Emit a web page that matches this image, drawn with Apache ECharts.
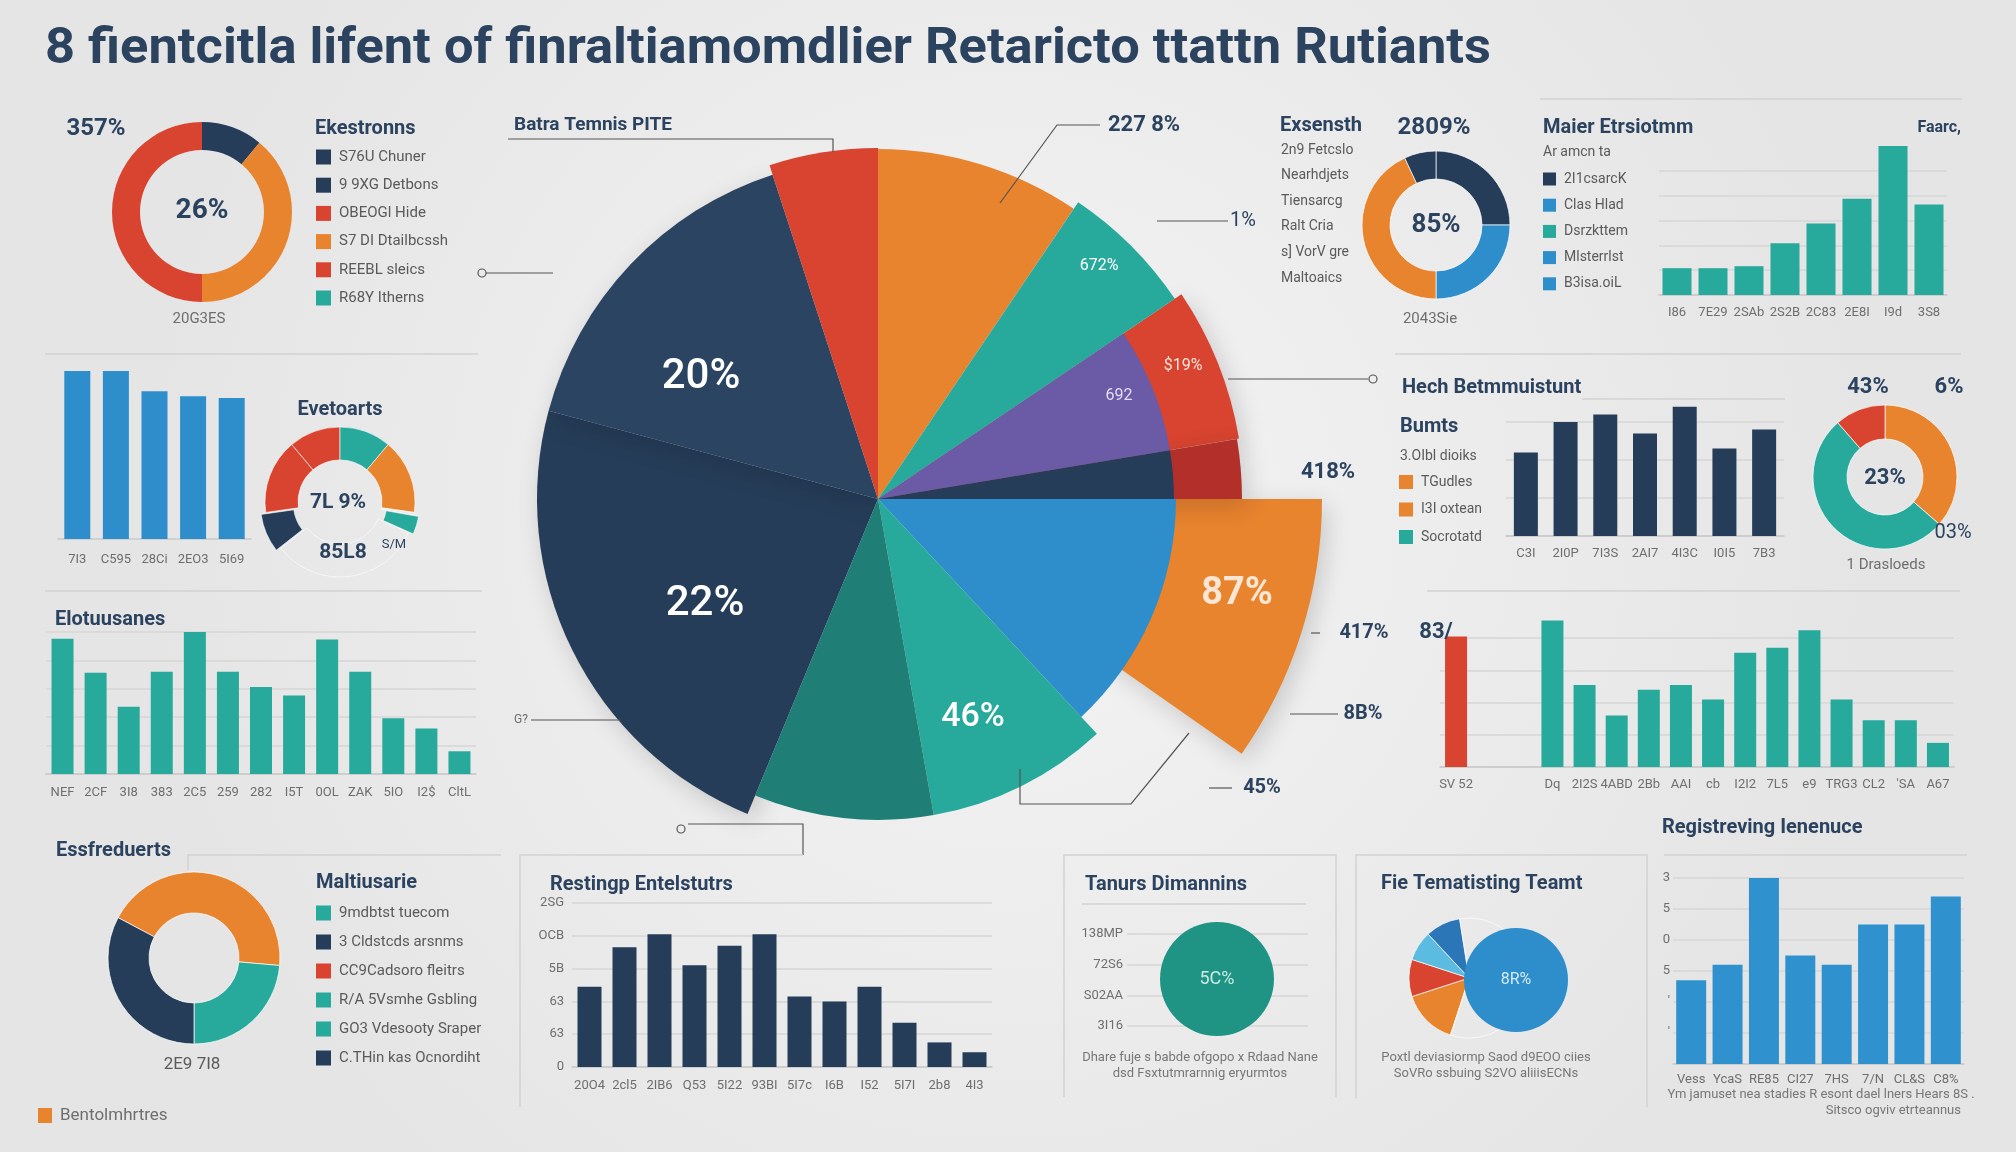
<!DOCTYPE html>
<html>
<head>
<meta charset="utf-8">
<title>Infographic</title>
<script src="https://cdn.jsdelivr.net/npm/echarts@6.0.0/dist/echarts.min.js"></script>
<style>
  html, body { margin: 0; padding: 0; background: #ececec; }
  #chart { width: 2016px; height: 1152px; }
</style>
</head>
<body>
<div id="chart"></div>
<script>
// ---------- values ----------
const titleText = '8 fientcitla lifent of finraltiamomdlier Retaricto ttattn Rutiants';

// top-left ring (navy, orange, red, clockwise from 12 o'clock)
const ringTopLeft = [11, 39, 50];
const ringTopLeftNames = ['S76U Chuner', '9 9XG Detbons', 'OBEOGl Hide', 'S7 DI Dtailbcssh', 'REEBL sleics', 'R68Y Itherns'];

// blue bars, left middle
const blueCats = ['7I3', 'C595', '28Ci', '2EO3', '5I69'];
const blueVals = [100, 100, 88, 85, 84];

// half ring "Evetoarts" (last share is the empty part)
const gaugeShares = [30, 58, 40, 40, 58, 2, 14, 118];

// teal bars, left
const tealLeftCats = ['NEF', '2CF', '3I8', '383', '2C5', '259', '282', 'I5T', '0OL', 'ZAK', '5IO', 'I2$', 'CltL'];
const tealLeftVals = [143, 107, 71, 108, 150, 108, 92, 83, 142, 108, 59, 48, 24];

// big pie: sector shares clockwise from 12 o'clock, plus the pulled-out orange piece
const mainShares = [34, 22, 24.5, 9.5, 47, 33, 32.5, 82.5, 57, 18];
const pulledShare = 35;

// "Exsensth" ring
const ringExsenth = [90, 90, 155, 25];
const exsenthNotes = ['2n9 Fetcslo', 'Nearhdjets', 'Tiensarcg', 'Ralt Cria', 's] VorV gre', 'Maltoaics'];

// "Maier" bars
const maierNames = ['2I1csarcK', 'Clas Hlad', 'Dsrzkttem', 'Mlsterrlst', 'B3isa.oiL'];
const maierCats = ['I86', '7E29', '2SAb', '2S2B', '2C83', '2E8I', 'I9d', '3S8'];
const maierVals = [27, 27, 29, 52, 72, 97, 150, 91];

// "Hech" bars
const hechNames = ['TGudles', 'I3I oxtean', 'Socrotatd'];
const hechCats = ['C3I', '2I0P', '7I3S', '2AI7', '4I3C', 'I0I5', '7B3'];
const hechVals = [22, 30, 32, 27, 34, 23, 28];

// right ring (orange, teal, red)
const ringRight = [131, 188, 41];

// red + teal bars, right
const mixCats = ['SV 52', '', '', 'Dq', '2I2S', '4ABD', '2Bb', 'AAI', 'cb', 'I2I2', '7L5', 'e9', 'TRG3', 'CL2', "'SA", 'A67'];
const mixRed = 81;
const mixTeal = [91, 51, 32, 48, 51, 42, 71, 74, 85, 42, 29, 29, 15];

// bottom-left ring (orange, teal, navy)
const ringLow = [157, 85, 118];
const maltNames = ['9mdbtst tuecom', '3 Cldstcds arsnms', 'CC9Cadsoro fleitrs', 'R/A 5Vsmhe Gsbling', 'GO3 Vdesooty Sraper', 'C.THin kas Ocnordiht'];

// "Restingp" bars
const restCats = ['20O4', '2cl5', '2IB6', 'Q53', '5I22', '93BI', '5I7c', 'I6B', 'I52', '5I7I', '2b8', '4I3'];
const restVals = [49, 73, 81, 62, 74, 81, 43, 40, 49, 27, 15, 9];
const restTicks = ['0', '63', '63', '5B', 'OCB', '2SG'];

// "Tanurs" panel
const tanursTicks = ['3I16', 'S02AA', '72S6', '138MP'];
const tanursVal = [50];

// "Fie" panel: small slices (last is empty) and the big blue disc
const fieSlices = [54, 36, 29, 34, 207];
const fieDisc = [100];

// "Registreving" bars
const regCats = ['Vess', 'YcaS', 'RE85', 'CI27', '7HS', '7/N', 'CL&S', 'C8%'];
const regVals = [2.7, 3.2, 6, 3.5, 3.2, 4.5, 4.5, 5.4];
const regTicks = ['', "'", "'", '5', '0', '5', '3'];

// ---------- styling ----------
const C = {
  navy: '#263d59', navy2: '#2b4461', orange: '#e8832e', red: '#d8442f', darkRed: '#b3302a',
  teal: '#27a99c', darkTeal: '#1f7f76', blue: '#2e8ecb', purple: '#6b5aa6', sky: '#5cbbe0',
  deepBlue: '#2a76b6', ink: '#2c4360', grey: '#5a5a5a', soft: '#6e6e6e', rule: '#d2d2d2', lead: '#555'
};
const FONT = 'Roboto, "Noto Sans", sans-serif';

const grids = [], xAxes = [], yAxes = [], series = [], graphics = [];

function txt(x, y, text, size, color, opt = {}) {
  graphics.push({
    type: 'text', x, y, z: 100, silent: true, scaleX: opt.scaleX || 1,
    style: {
      text, fill: color, font: `${opt.weight || 'normal'} ${size}px ${FONT}`,
      align: opt.align || 'left', verticalAlign: 'middle'
    }
  });
}
function line(points, color = C.rule, width = 1.5) {
  graphics.push({ type: 'polyline', z: 50, silent: true, shape: { points }, style: { stroke: color, lineWidth: width, fill: null } });
}
function dot(x, y) {
  graphics.push({ type: 'circle', z: 50, silent: true, shape: { cx: x, cy: y, r: 4 }, style: { stroke: C.lead, lineWidth: 1.2, fill: 'none' } });
}
function legend(x, y, step, colors, names, box = 15, size = 15) {
  names.forEach((n, k) => {
    const cy = y + k * step;
    if (colors) {
      graphics.push({ type: 'rect', z: 100, silent: true, shape: { x, y: cy - box / 2, width: box, height: box }, style: { fill: colors[k] } });
    }
    txt(x + (colors ? box + 8 : 0), cy, n, size, C.grey);
  });
}

function bars(box, cats, vals, color, o = {}) {
  const i = grids.length;
  grids.push({ left: box[0], top: box[1], width: box[2], height: box[3], outerBoundsMode: 'none' });
  xAxes.push({
    gridIndex: i, type: 'category', data: cats,
    axisTick: { show: false },
    axisLine: { show: o.axisLine !== false, lineStyle: { color: '#c9c9c9', width: 1.5 } },
    axisLabel: { interval: 0, color: C.soft, fontSize: 13, fontFamily: FONT, margin: o.margin ?? 11 }
  });
  yAxes.push({
    gridIndex: i, type: 'value', min: 0, max: o.max, interval: o.step,
    axisLine: { show: false }, axisTick: { show: false },
    axisLabel: o.ticks
      ? { show: true, color: C.soft, fontSize: 13, fontFamily: FONT, margin: o.yMargin ?? 6,
          formatter: v => o.ticks[Math.round(v / o.step)] ?? '' }
      : { show: false },
    splitLine: { show: o.split !== false, showMaxLine: o.maxLine !== false, lineStyle: { color: '#d6d6d6', width: 1.5 } }
  });
  series.push({
    type: 'bar', xAxisIndex: i, yAxisIndex: i, data: vals, barWidth: o.barWidth,
    itemStyle: { color }, silent: true
  });
}

function ring(center, radius, vals, colors, startAngle, opt = {}) {
  series.push({
    type: 'pie', center, radius, startAngle, clockwise: true, silent: true, z: opt.z || 2,
    label: { show: false }, labelLine: { show: false }, emphasis: { disabled: true },
    selectedMode: opt.selected ? 'multiple' : false, selectedOffset: opt.offset || 0,
    data: vals.map((v, k) => ({
      value: v,
      selected: !!(opt.selected && opt.selected.includes(k)),
      itemStyle: Object.assign({ color: colors[k] }, opt.itemStyle || {})
    }))
  });
}

// ---------- title ----------
const measure = document.createElement('canvas').getContext('2d');
measure.font = `bold 50px ${FONT}`;
txt(45, 50, titleText, 50, C.ink, { weight: 'bold', scaleX: 1446 / measure.measureText(titleText).width });

// ---------- top-left ring + legend ----------
ring([202, 212], [62, 90], ringTopLeft, [C.navy, C.orange, C.red], 90);
txt(202, 211, '26%', 28, C.ink, { weight: 'bold', align: 'center' });
txt(96, 129, '357%', 24, C.ink, { weight: 'bold', align: 'center' });
txt(199, 319, '20G3ES', 15, C.soft, { align: 'center' });
txt(315, 129, 'Ekestronns', 20, C.ink, { weight: 'bold' });
legend(316, 157, 28.2, [C.navy, C.navy, C.red, C.orange, C.red, C.teal], ringTopLeftNames);
line([[45, 354], [478, 354]]);

// ---------- blue bars + half ring ----------
bars([58, 371, 193, 168], blueCats, blueVals, C.blue, { max: 100, step: 100, split: false, barWidth: 26, margin: 14 });
txt(340, 410, 'Evetoarts', 20, C.ink, { weight: 'bold', align: 'center' });
ring([340, 502], [42, 75], gaugeShares,
  [C.navy, C.red, C.red, C.teal, C.orange, 'transparent', C.teal, 'transparent'], 218,
  { selected: [0, 6], offset: 5, itemStyle: { borderColor: 'rgba(255,255,255,0.6)', borderWidth: 1 } });
txt(338, 503, '7L 9%', 21, C.ink, { weight: 'bold', align: 'center' });
txt(343, 553, '85L8', 21, C.ink, { weight: 'bold', align: 'center' });
txt(394, 545, 'S/M', 13, C.ink, { align: 'center' });
line([[45, 591], [482, 591]]);

// ---------- teal bars left ----------
txt(55, 620, 'Elotuusanes', 20, C.ink, { weight: 'bold' });
bars([46, 632, 430, 142], tealLeftCats, tealLeftVals, C.teal, { max: 150, step: 30, barWidth: 22, margin: 12 });

// ---------- big pie ----------
const mainCenter = [878, 499];
const shadowStyle = { shadowBlur: 24, shadowColor: 'rgba(0,0,0,0.16)', shadowOffsetX: 5, shadowOffsetY: 7 };

// pulled-out orange piece sits behind the blue sector, starting where blue starts
const blueStart = 90 - mainShares.slice(0, 4).reduce((a, b) => a + b, 0);
series.push({
  type: 'pie', center: mainCenter, radius: [0, 444], startAngle: blueStart, clockwise: true,
  silent: true, z: 1, label: { show: false }, labelLine: { show: false }, emphasis: { disabled: true },
  data: [
    { value: pulledShare, itemStyle: Object.assign({ color: C.orange }, shadowStyle) },
    { value: 360 - pulledShare, itemStyle: { color: 'transparent' } }
  ]
});

// [segment, radius, colour, layer, casts shadow]
const mainSectors = [
  [2, 366, C.red, 1, true], [3, 364, C.darkRed, 1, true],
  [7, 341, C.navy, 2, true], [8, 341, C.navy2, 2, true],
  [0, 350, C.orange, 2], [1, 358, C.teal, 2], [2, 296, C.purple, 2], [3, 296, C.navy, 2],
  [4, 298, C.blue, 2], [5, 321, C.teal, 2], [6, 321, C.darkTeal, 2],
  [9, 351, C.red, 2]
];
mainSectors.forEach(([seg, r, color, layer, shadow]) => {
  series.push({
    type: 'pie', center: mainCenter, radius: [0, r], startAngle: 90, clockwise: true,
    silent: true, z: layer, label: { show: false }, labelLine: { show: false }, emphasis: { disabled: true },
    data: mainShares.map((v, k) => ({
      value: v,
      itemStyle: k !== seg
        ? { color: 'transparent' }
        : Object.assign({ color }, shadow ? shadowStyle : {})
    }))
  });
});
txt(701, 377, '20%', 42, '#ffffff', { weight: 500, align: 'center' });
txt(705, 604, '22%', 42, '#ffffff', { weight: 500, align: 'center' });
txt(973, 717, '46%', 34, '#ffffff', { weight: 500, align: 'center' });
txt(1237, 594, '87%', 38, '#fbe6d3', { weight: 'bold', align: 'center' });
txt(1099, 266, '672%', 16, '#ffffff', { align: 'center' });
txt(1183, 366, '$19%', 16, '#fde5dc', { align: 'center' });
txt(1119, 396, '692', 16, '#e2dcf2', { align: 'center' });

txt(514, 125, 'Batra Temnis PITE', 19, C.ink, { weight: 'bold' });
line([[508, 139], [833, 139], [833, 152]], C.lead, 1.2);
txt(1144, 125, '227 8%', 22, C.ink, { weight: 'bold', align: 'center' });
line([[1100, 125], [1057, 125], [1000, 203]], C.lead, 1.2);
line([[1157, 221], [1228, 221]], C.lead, 1.2);
txt(1243, 221, '1%', 20, C.ink, { align: 'center' });
line([[1228, 379], [1368, 379]], C.lead, 1.2);
dot(1373, 379);
txt(1328, 472, '418%', 22, C.ink, { weight: 'bold', align: 'center' });
line([[1311, 633], [1320, 633]], C.lead, 1.2);
txt(1364, 633, '417%', 20, C.ink, { weight: 'bold', align: 'center' });
line([[1290, 714], [1338, 714]], C.lead, 1.2);
txt(1363, 714, '8B%', 20, C.ink, { weight: 'bold', align: 'center' });
line([[1209, 788], [1232, 788]], C.lead, 1.2);
txt(1262, 788, '45%', 20, C.ink, { weight: 'bold', align: 'center' });
line([[1020, 769], [1020, 804], [1131, 804], [1189, 733]], C.lead, 1.2);
txt(521, 720, 'G?', 12, C.soft, { align: 'center' });
line([[531, 720], [621, 720]], C.lead, 1.2);
dot(482, 273);
line([[486, 273], [553, 273]], C.lead, 1.2);
dot(681, 829);
line([[688, 824], [803, 824], [803, 855]], C.lead, 1.2);

// ---------- "Exsensth" ring ----------
ring([1436, 225], [46, 74], ringExsenth, [C.navy, C.blue, C.orange, C.navy], 90,
  { itemStyle: { borderColor: 'rgba(255,255,255,0.7)', borderWidth: 1 } });
txt(1280, 126, 'Exsensth', 20, C.ink, { weight: 'bold' });
txt(1434, 128, '2809%', 24, C.ink, { weight: 'bold', align: 'center' });
txt(1436, 225, '85%', 26, C.ink, { weight: 'bold', align: 'center' });
txt(1430, 319, '2043Sie', 15, C.soft, { align: 'center' });
legend(1281, 150, 25.6, null, exsenthNotes, 0, 14);

// ---------- "Maier" bars ----------
line([[1540, 99], [1962, 99]]);
txt(1543, 128, 'Maier Etrsiotmm', 20, C.ink, { weight: 'bold' });
txt(1961, 128, 'Faarc,', 16, C.ink, { weight: 'bold', align: 'right' });
txt(1543, 152, 'Ar amcn ta', 14, C.grey);
legend(1543, 179, 26.2, [C.navy, C.blue, C.teal, C.blue, C.blue], maierNames, 13, 14);
bars([1659, 146, 288, 149], maierCats, maierVals, C.teal, { max: 150, step: 25, barWidth: 29, margin: 11, maxLine: false });

// ---------- "Hech" bars ----------
line([[1395, 354], [1961, 354]]);
txt(1402, 388, 'Hech Betmmuistunt', 20, C.ink, { weight: 'bold' });
line([[1582, 399], [1785, 399]]);
txt(1400, 427, 'Bumts', 20, C.ink, { weight: 'bold' });
txt(1400, 456, '3.OIbl dioiks', 14, C.grey);
legend(1399, 482, 27.5, [C.orange, C.orange, C.teal], hechNames, 14, 14);
bars([1506, 384, 278, 152], hechCats, hechVals, C.navy, { max: 40, step: 10, barWidth: 24, margin: 11, maxLine: false });

// ---------- right ring ----------
ring([1885, 477], [38, 72], ringRight, [C.orange, C.teal, C.red], 90,
  { itemStyle: { borderColor: 'rgba(255,255,255,0.7)', borderWidth: 1 } });
txt(1868, 387, '43%', 22, C.ink, { weight: 'bold', align: 'center' });
txt(1949, 387, '6%', 22, C.ink, { weight: 'bold', align: 'center' });
txt(1885, 478, '23%', 22, C.ink, { weight: 'bold', align: 'center' });
txt(1953, 533, '03%', 20, C.ink, { align: 'center' });
txt(1886, 565, '1 Drasloeds', 15, C.soft, { align: 'center' });

// ---------- red + teal bars ----------
line([[1427, 591], [1960, 591]]);
txt(1436, 632, '83/', 22, C.ink, { weight: 'bold', align: 'center' });
bars([1440, 606, 514, 161], mixCats,
  mixCats.map((_, k) => k === 0 ? { value: mixRed, itemStyle: { color: C.red } } : (k < 3 ? '-' : mixTeal[k - 3])),
  C.teal, { max: 100, step: 20, barWidth: 22, margin: 11, maxLine: false });

// ---------- bottom-left ring + legend ----------
txt(56, 851, 'Essfreduerts', 20, C.ink, { weight: 'bold' });
line([[188, 870], [188, 855], [501, 855]]);
ring([194, 958], [45, 86], ringLow, [C.orange, C.teal, C.navy], 152,
  { itemStyle: { borderColor: 'rgba(255,255,255,0.7)', borderWidth: 1 } });
txt(192, 1065, '2E9 7I8', 17, C.grey, { align: 'center' });
txt(316, 883, 'Maltiusarie', 20, C.ink, { weight: 'bold' });
legend(316, 913, 29, [C.teal, C.navy, C.red, C.teal, C.teal, C.navy], maltNames);

// ---------- "Restingp" bars ----------
line([[520, 1107], [520, 855], [803, 855]]);
txt(550, 885, 'Restingp Entelstutrs', 20, C.ink, { weight: 'bold' });
bars([572, 903, 420, 164], restCats, restVals, C.navy, { max: 100, step: 20, barWidth: 24, margin: 12, ticks: restTicks, yMargin: 8 });

// ---------- "Tanurs" panel ----------
line([[1064, 1097], [1064, 855], [1336, 855], [1336, 1097]]);
txt(1085, 885, 'Tanurs Dimannins', 20, C.ink, { weight: 'bold' });
line([[1082, 904], [1306, 904]]);
(function () {
  const i = grids.length;
  grids.push({ left: 1127, top: 934, width: 181, height: 92, outerBoundsMode: 'none' });
  xAxes.push({ gridIndex: i, type: 'value', min: 0, max: 1, show: false });
  yAxes.push({
    gridIndex: i, type: 'value', min: 0, max: 3, interval: 1,
    axisLine: { show: false }, axisTick: { show: false },
    axisLabel: { color: C.soft, fontSize: 13, fontFamily: FONT, margin: 4, formatter: v => tanursTicks[v] ?? '' },
    splitLine: { lineStyle: { color: '#d6d6d6', width: 1.5 } }
  });
})();
ring([1217, 979], [0, 57], tanursVal, ['#1f9484'], 90, { z: 3 });
txt(1217, 979, '5C%', 18, '#c9ede6', { align: 'center' });
txt(1200, 1058, 'Dhare fuje s babde ofgopo x Rdaad Nane', 13, '#777', { align: 'center' });
txt(1200, 1074, 'dsd Fsxtutmrarnnig eryurmtos', 13, '#777', { align: 'center' });

// ---------- "Fie" panel ----------
line([[1356, 1098], [1356, 855], [1647, 855], [1647, 1107]]);
txt(1381, 884, 'Fie Tematisting Teamt', 20, C.ink, { weight: 'bold' });
ring([1469, 978], [0, 60], fieSlices, [C.orange, C.red, C.sky, C.deepBlue, 'transparent'], 252,
  { itemStyle: { borderColor: 'rgba(255,255,255,0.7)', borderWidth: 1 } });
ring([1516, 980], [0, 52], fieDisc, [C.blue], 90, { z: 3 });
txt(1516, 980, '8R%', 16, '#d5ecf8', { align: 'center' });
txt(1486, 1058, 'Poxtl deviasiormp Saod d9EOO ciies', 13, '#777', { align: 'center' });
txt(1486, 1074, 'SoVRo ssbuing S2VO aliiisECNs', 13, '#777', { align: 'center' });

// ---------- "Registreving" bars ----------
txt(1662, 828, 'Registreving Ienenuce', 20, C.ink, { weight: 'bold' });
line([[1664, 855], [1967, 855]]);
bars([1673, 878, 291, 186], regCats, regVals, '#2f92cf', { max: 6, step: 1, barWidth: 30, margin: 9, ticks: regTicks, yMargin: 3 });
txt(1821, 1095, 'Ym jamuset nea stadies R esont dael lners Hears 8S .', 13, '#777', { align: 'center' });
txt(1961, 1111, 'Sitsco ogviv etrteannus', 13, '#777', { align: 'right' });

// ---------- footer ----------
graphics.push({ type: 'rect', z: 100, silent: true, shape: { x: 38, y: 1108, width: 14, height: 15 }, style: { fill: C.orange } });
txt(60, 1116, 'Bentolmhrtres', 17, C.soft);

// ---------- render ----------
const chart = echarts.init(document.getElementById('chart'));
chart.setOption({
  animation: false,
  backgroundColor: new echarts.graphic.RadialGradient(0.5, 0.45, 0.75, [
    { offset: 0, color: '#f4f4f4' },
    { offset: 1, color: '#e5e5e5' }
  ]),
  textStyle: { fontFamily: FONT },
  grid: grids,
  xAxis: xAxes,
  yAxis: yAxes,
  series: series,
  graphic: graphics
});
</script>
</body>
</html>
